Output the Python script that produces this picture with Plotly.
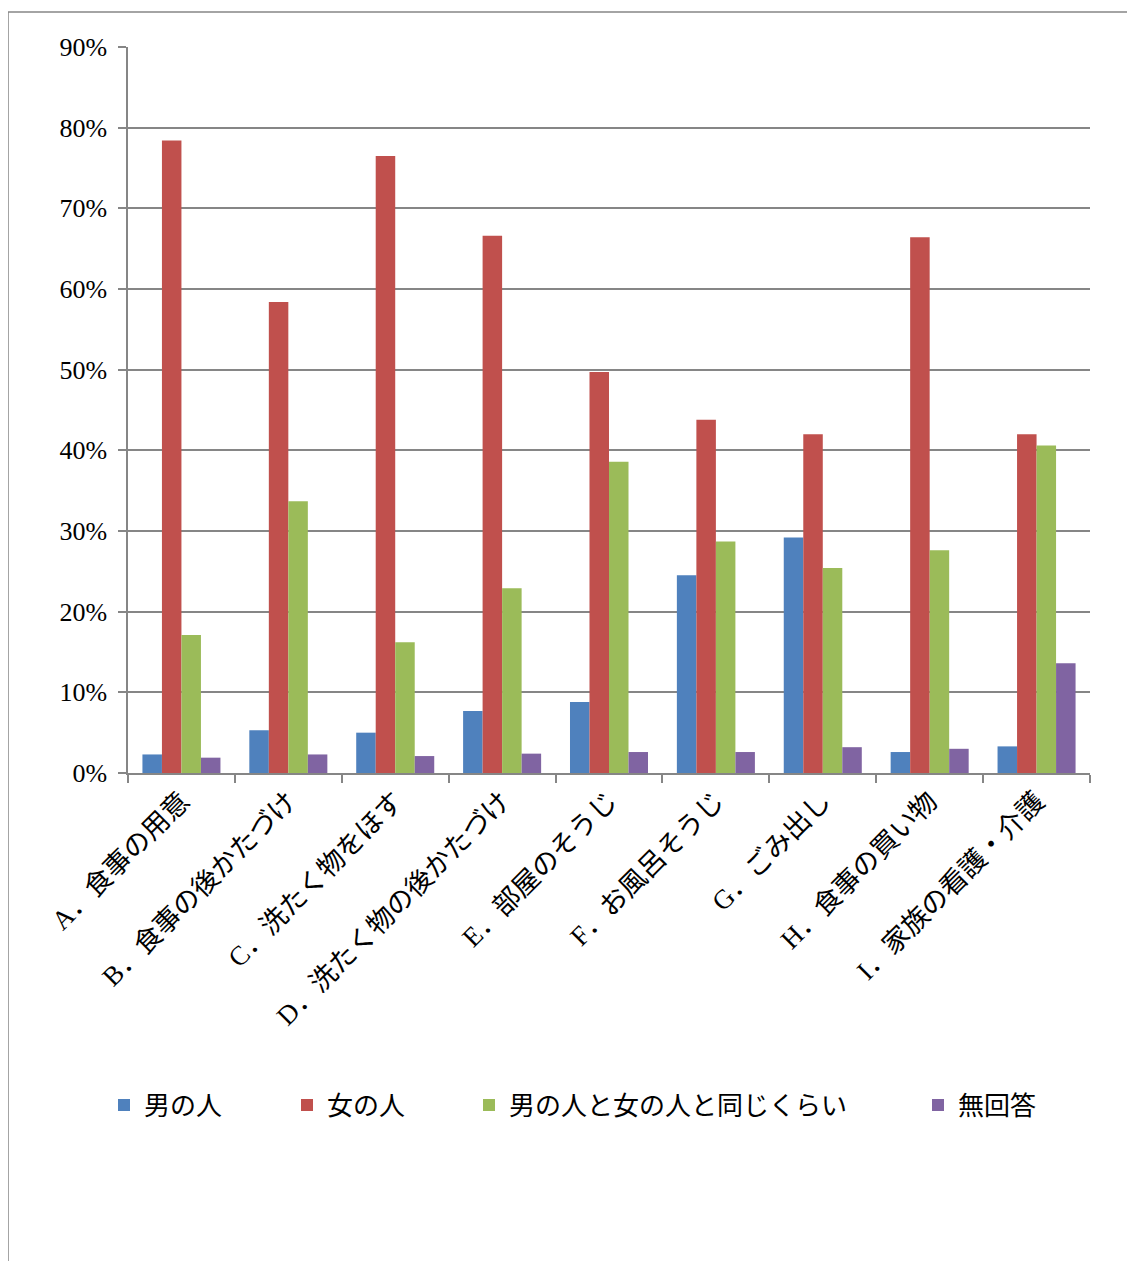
import plotly.graph_objects as go

categories = ["A．食事の用意", "B．食事の後かたづけ", "C．洗たく物をほす", "D．洗たく物の後かたづけ",
              "E．部屋のそうじ", "F．お風呂そうじ", "G．ごみ出し", "H．食事の買い物", "I．家族の看護・介護"]
series_names = ["男の人", "女の人", "男の人と女の人と同じくらい", "無回答"]
men = [2.3, 5.3, 5.0, 7.7, 8.8, 24.5, 29.2, 2.6, 3.3]
women = [78.4, 58.4, 76.5, 66.6, 49.7, 43.8, 42.0, 66.4, 42.0]
same = [17.1, 33.7, 16.2, 22.9, 38.6, 28.7, 25.4, 27.6, 40.6]
no_answer = [1.9, 2.3, 2.1, 2.4, 2.6, 2.6, 3.2, 3.0, 13.6]
y_ticks = [0, 10, 20, 30, 40, 50, 60, 70, 80, 90]
y_tick_labels = [f"{v}%" for v in y_ticks]

colors = ["#4F81BD", "#C0504D", "#9BBB59", "#8064A2"]
values = [men, women, same, no_answer]

OFF = 8  # page body margin
W, H = 1135 - OFF, 1261 - OFF
L, R, T, B = 128 - OFF, 1090 - OFF, 47 - OFF, 773 - OFF
pw, ph = R - L, B - T

def px_x(x):
    return (x - OFF - L) / pw

def px_y(y):
    return (B - (y - OFF)) / ph

FONT = "Liberation Serif, Noto Sans CJK JP, serif"

fig = go.Figure()
legend_names = ["legend", "legend2", "legend3", "legend4"]
legend_x = [104, 287, 469, 918]
for i in range(4):
    fig.add_trace(go.Bar(
        x=categories, y=values[i], name=series_names[i],
        marker=dict(color=colors[i], line=dict(width=0)),
        legend=legend_names[i],
    ))

legend_common = dict(orientation="h", yanchor="middle", xanchor="left",
                     font=dict(family=FONT, size=26, color="#000000"),
                     bgcolor="rgba(0,0,0,0)", itemwidth=30)
layout_legends = {}
for i, ln in enumerate(legend_names):
    d = dict(legend_common)
    d["x"] = px_x(legend_x[i])
    d["y"] = px_y(1105)
    layout_legends[ln] = d

fig.update_layout(
    width=W, height=H,
    margin=dict(l=L, r=W - R, t=T, b=H - B, autoexpand=False),
    paper_bgcolor="white", plot_bgcolor="white",
    barmode="group", bargap=0.27, bargroupgap=0,
    showlegend=True,
    font=dict(family=FONT, size=24, color="#000000"),
    xaxis=dict(
        type="category", tickangle=-45, tickson="boundaries",
        ticks="outside", ticklen=8, tickcolor="#868686", tickwidth=1.5,
        showline=True, linecolor="#868686", linewidth=1.5,
        showgrid=False, tickfont=dict(family=FONT, size=27, color="#000000"),
    ),
    yaxis=dict(
        range=[0, 90], tickvals=y_ticks, ticktext=y_tick_labels,
        ticks="outside", ticklen=8, tickcolor="#868686", tickwidth=1.5,
        showline=True, linecolor="#868686", linewidth=1.5,
        showgrid=True, gridcolor="#868686", gridwidth=1.5,
        zeroline=False, ticklabelstandoff=6,
        tickfont=dict(family=FONT, size=26, color="#000000"),
    ),
    shapes=[dict(type="rect", xref="paper", yref="paper",
                 x0=px_x(8), x1=px_x(1160), y0=px_y(1290), y1=px_y(12),
                 line=dict(color="#868686", width=1.5), fillcolor="rgba(0,0,0,0)", layer="below")],
    **layout_legends,
)

fig.write_html("out.html")
